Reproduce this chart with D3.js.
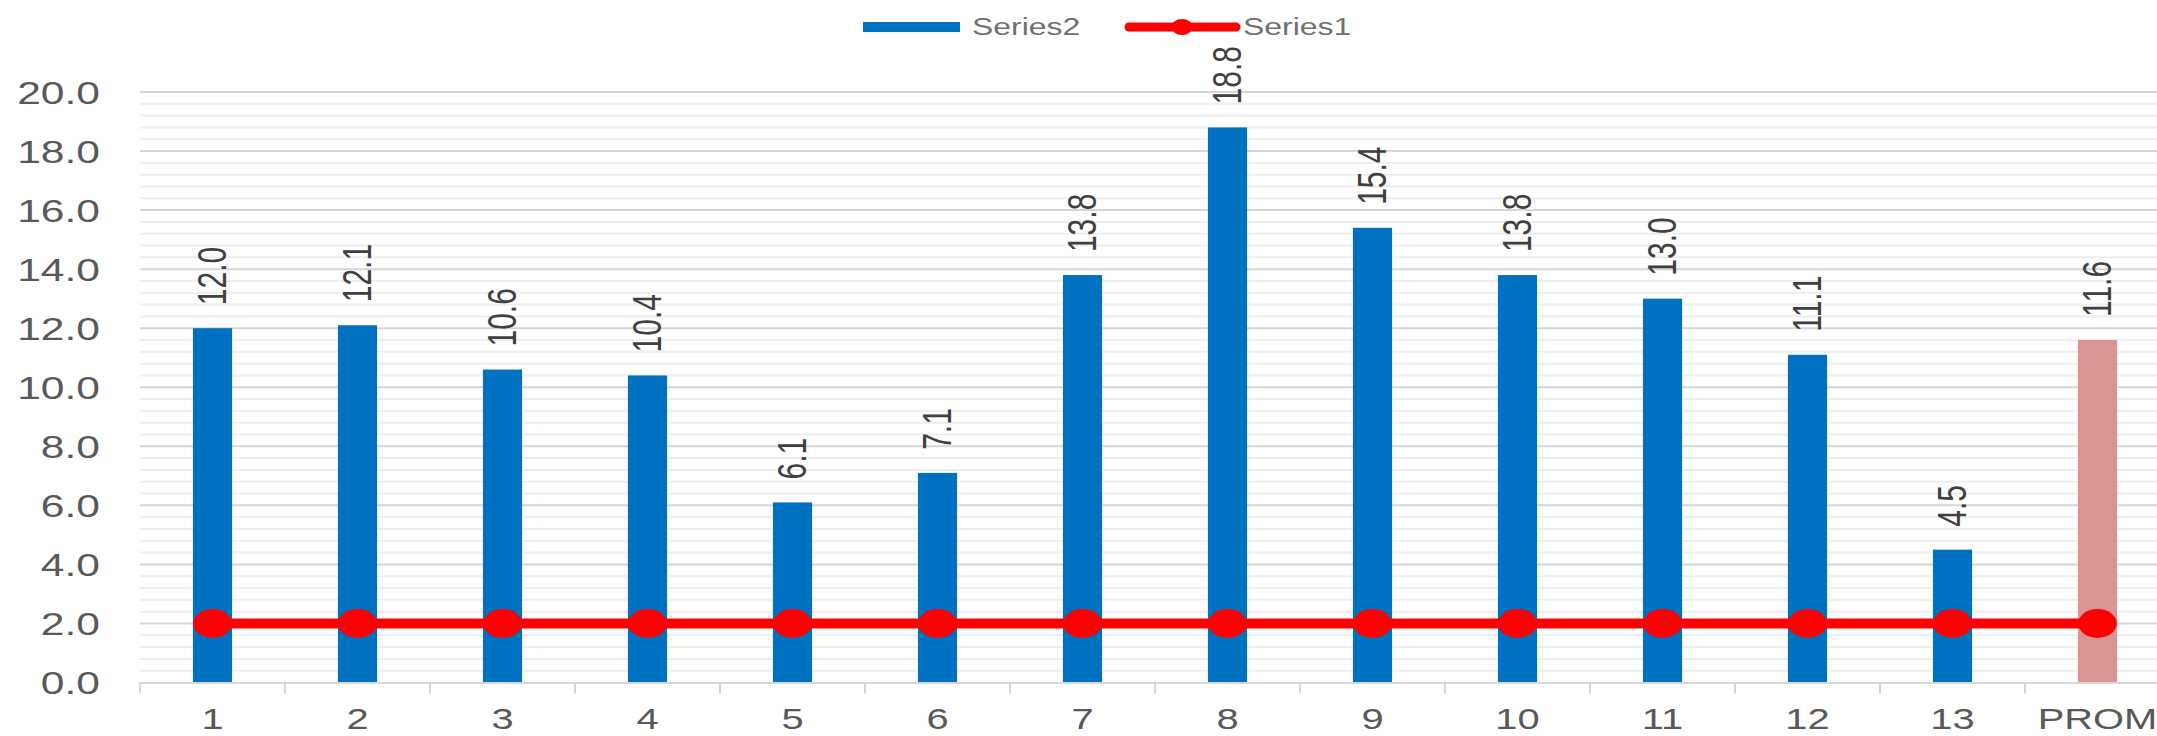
<!DOCTYPE html>
<html>
<head>
<meta charset="utf-8">
<script src="https://cdn.jsdelivr.net/npm/d3@7/dist/d3.min.js"></script>
<style>
  html, body { margin: 0; padding: 0; background: #ffffff; overflow: hidden; }
  svg { display: block; }
  text { font-family: "Liberation Sans", Arial, sans-serif; }
</style>
</head>
<body>
<svg id="chart" width="2157" height="736"></svg>
<script>
// ---- data ----
const categories = ["1", "2", "3", "4", "5", "6", "7", "8", "9", "10", "11", "12", "13", "PROM"];
const series2 = [12.0, 12.1, 10.6, 10.4, 6.1, 7.1, 13.8, 18.8, 15.4, 13.8, 13.0, 11.1, 4.5, 11.6];
const series1 = [2.0, 2.0, 2.0, 2.0, 2.0, 2.0, 2.0, 2.0, 2.0, 2.0, 2.0, 2.0, 2.0, 2.0];
const yTicks = [0, 2, 4, 6, 8, 10, 12, 14, 16, 18, 20];
const legendNames = ["Series2", "Series1"];

// ---- layout / style ----
const W = 2157, H = 736;
const SX = 1.33;               // horizontal stretch of the original image
const plotLeft = 140, plotRight = 2170, plotTop = 92, plotBottom = 682.5;
const blue = "#0070C0", pink = "#D99594", red = "#FF0000";
const textCol = "#595959";

const svg = d3.select("#chart");

const x = d3.scaleBand().domain(categories).range([plotLeft, plotRight]).padding(0);
const y = d3.scaleLinear().domain([0, 20]).range([plotBottom, plotTop]);
const barW = x.bandwidth() * 0.27;
const cx = c => x(c) + x.bandwidth() / 2;

// gridlines: minor every 0.4, major every 2
const minor = d3.range(1, 50).map(i => +(i * 0.4).toFixed(1)).filter(v => Math.abs(v / 2 - Math.round(v / 2)) > 1e-6);
const grid = svg.append("g");
grid.selectAll("line.minor").data(minor).join("line")
  .attr("x1", plotLeft).attr("x2", plotRight)
  .attr("y1", d => y(d)).attr("y2", d => y(d))
  .attr("stroke", "#eeeeee").attr("stroke-width", 2);
grid.selectAll("line.major").data(yTicks.filter(v => v > 0)).join("line")
  .attr("x1", plotLeft).attr("x2", plotRight)
  .attr("y1", d => y(d)).attr("y2", d => y(d))
  .attr("stroke", "#d6d6d6").attr("stroke-width", 2);

// y axis labels
const yAxis = svg.append("g").attr("transform", `translate(${plotLeft},0)`)
  .call(d3.axisLeft(y).tickValues(yTicks).tickFormat(d3.format(".1f")).tickSize(0).tickPadding(0));
yAxis.select(".domain").remove();
yAxis.selectAll("text")
  .attr("x", -40 / SX).attr("dy", "0.35em")
  .attr("transform", `scale(${SX},1)`)
  .attr("fill", textCol).style("font-size", "32px").attr("font-family", null);

// bars
svg.append("g").selectAll("rect").data(categories).join("rect")
  .attr("x", (c) => cx(c) - barW / 2)
  .attr("width", barW)
  .attr("y", (c, i) => y(series2[i]))
  .attr("height", (c, i) => y(0) - y(series2[i]))
  .attr("fill", c => c === "PROM" ? pink : blue);

// x axis
const xAxisG = svg.append("g").attr("transform", `translate(0,${plotBottom})`)
  .call(d3.axisBottom(x).tickSize(0).tickPadding(0).tickSizeOuter(0));
xAxisG.select(".domain").attr("stroke", "#d6d6d6").attr("stroke-width", 2);
xAxisG.selectAll("text")
  .attr("y", 36).attr("dy", "0.35em")
  .attr("transform", `scale(${SX},1)`)
  .attr("fill", textCol).style("font-size", "30px").attr("font-family", null);
// category boundary ticks
const bounds = categories.map(c => x(c));
xAxisG.selectAll("line.bnd").data(bounds).join("line")
  .attr("class", "bnd")
  .attr("x1", d => d).attr("x2", d => d)
  .attr("y1", 0).attr("y2", 11)
  .attr("stroke", "#d6d6d6").attr("stroke-width", 2);

// line series
const lineGen = d3.line().x(c => cx(c)).y((c, i) => y(series1[i]));
svg.append("path").datum(categories)
  .attr("d", lineGen)
  .attr("fill", "none").attr("stroke", red).attr("stroke-width", 10);
svg.append("g").selectAll("ellipse").data(categories).join("ellipse")
  .attr("cx", c => cx(c)).attr("cy", (c, i) => y(series1[i]))
  .attr("rx", 14.5 * SX).attr("ry", 14.5)
  .attr("fill", red);

// data labels (rotated)
svg.append("g").selectAll("text").data(categories).join("text")
  .attr("transform", (c, i) => `translate(${cx(c)},${y(series2[i]) - 23}) scale(${SX},1) rotate(-90)`)
  .attr("text-anchor", "start").attr("dy", "0.35em")
  .attr("fill", "#404040").style("font-size", "30px")
  .text((c, i) => d3.format(".1f")(series2[i]));

// legend
const leg = svg.append("g");
leg.append("rect").attr("x", 863).attr("y", 22).attr("width", 97).attr("height", 10).attr("fill", blue);
leg.append("text").attr("transform", `translate(972,27) scale(${SX},1)`).attr("dy", "0.35em")
  .attr("fill", "#707070").style("font-size", "24px").text(legendNames[0]);
leg.append("line").attr("x1", 1129).attr("x2", 1236).attr("y1", 27).attr("y2", 27)
  .attr("stroke", red).attr("stroke-width", 9).attr("stroke-linecap", "round");
leg.append("ellipse").attr("cx", 1182).attr("cy", 27).attr("rx", 8 * SX).attr("ry", 8).attr("fill", red);
leg.append("text").attr("transform", `translate(1243,27) scale(${SX},1)`).attr("dy", "0.35em")
  .attr("fill", "#707070").style("font-size", "24px").text(legendNames[1]);
</script>
</body>
</html>
